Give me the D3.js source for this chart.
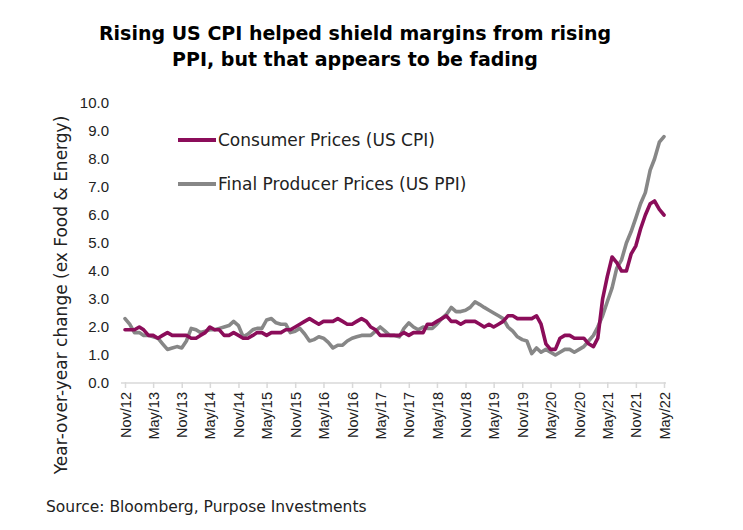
<!DOCTYPE html>
<html><head><meta charset="utf-8">
<script src="https://cdn.jsdelivr.net/npm/d3@7/dist/d3.min.js"></script>
<style>
body{margin:0;background:#fff;}
svg{display:block;font-family:"DejaVu Sans","Noto Sans",sans-serif;}
</style></head>
<body><svg id="c" width="743" height="530"></svg>
<script>
const startMonth = {year: 2012, month: 10}; // Nov 2012 (0-based month)
const cpi = [1.9,1.9,1.9,2.0,1.9,1.7,1.7,1.6,1.7,1.8,1.7,1.7,
  1.7,1.7,1.6,1.6,1.7,1.8,2.0,1.9,1.9,1.7,1.7,1.8,
  1.7,1.6,1.6,1.7,1.8,1.8,1.7,1.8,1.8,1.8,1.9,1.9,
  2.0,2.1,2.2,2.3,2.2,2.1,2.2,2.2,2.2,2.3,2.2,2.1,
  2.1,2.2,2.3,2.2,2.0,1.9,1.7,1.7,1.7,1.7,1.7,1.8,
  1.7,1.8,1.8,1.8,2.1,2.1,2.2,2.3,2.4,2.2,2.2,2.1,
  2.2,2.2,2.2,2.1,2.0,2.1,2.0,2.1,2.2,2.4,2.4,2.3,
  2.3,2.3,2.3,2.4,2.1,1.4,1.2,1.2,1.6,1.7,1.7,1.6,
  1.6,1.6,1.4,1.3,1.6,3.0,3.8,4.5,4.3,4.0,4.0,4.6,
  4.9,5.5,6.0,6.4,6.5,6.2,6.0];
const ppi = [2.3,2.1,1.8,1.8,1.7,1.7,1.65,1.6,1.4,1.2,1.25,1.3,
  1.25,1.5,1.95,1.9,1.8,1.85,1.9,1.9,1.95,2.0,2.05,2.2,
  2.05,1.65,1.75,1.9,1.95,1.95,2.25,2.3,2.15,2.1,2.1,1.8,
  1.85,1.95,1.75,1.5,1.55,1.65,1.6,1.45,1.25,1.35,1.35,1.5,
  1.6,1.65,1.7,1.7,1.7,1.85,2.0,1.85,1.7,1.7,1.65,1.95,
  2.15,2.0,1.9,2.0,1.95,1.95,2.1,2.3,2.45,2.7,2.55,2.55,
  2.6,2.7,2.9,2.8,2.7,2.6,2.5,2.4,2.3,2.0,1.85,1.65,
  1.55,1.5,1.05,1.25,1.1,1.2,1.1,1.0,1.1,1.2,1.2,1.1,
  1.2,1.3,1.5,1.7,2.0,2.4,2.9,3.4,4.1,4.4,5.0,5.4,
  5.9,6.4,6.8,7.6,8.0,8.6,8.8];
const tickLabels = ["Nov/12","May/13","Nov/13","May/14","Nov/14","May/15","Nov/15","May/16","Nov/16","May/17","Nov/17","May/18","Nov/18","May/19","Nov/19","May/20","Nov/20","May/21","Nov/21","May/22"];
const yTicks = [0,1,2,3,4,5,6,7,8,9,10];
const seriesNames = ["Consumer Prices (US CPI)","Final Producer Prices (US PPI)"];
const colors = ["#8b0d5a","#878787"];
const title = ["Rising US CPI helped shield margins from rising","PPI, but that appears to be fading"];
const yTitle = "Year-over-year change (ex Food & Energy)";
const source = "Source: Bloomberg, Purpose Investments";

const svg = d3.select("#c");
const dates = cpi.map((d,i)=>new Date(startMonth.year, startMonth.month+i, 1));
const x = d3.scaleTime().domain([dates[0], dates[dates.length-1]]).range([125,664]);
const y = d3.scaleLinear().domain([0,10]).range([383,103]);

// title
svg.append("g").selectAll("text").data(title).join("text")
  .attr("x",355).attr("y",(d,i)=>40+i*26).attr("text-anchor","middle")
  .attr("font-size",19).attr("font-weight",700).attr("fill","#000").text(d=>d);

// y axis
const yAxis = svg.append("g").attr("transform","translate(122,0)")
  .call(d3.axisLeft(y).tickValues(yTicks).tickFormat(d3.format(".1f")).tickSize(0).tickPadding(13));
yAxis.select(".domain").remove();
yAxis.selectAll("text").attr("font-size",15).attr("fill","#222").attr("font-family","inherit");

// x axis
const tickDates = tickLabels.map((d,i)=>new Date(startMonth.year, startMonth.month+i*6, 1));
const xAxis = svg.append("g").attr("transform","translate(0,383)")
  .call(d3.axisBottom(x).tickValues(tickDates).tickFormat((d,i)=>tickLabels[i]).tickSize(5).tickSizeOuter(0));
xAxis.select(".domain").attr("stroke","#d9d9d9").attr("stroke-width",1.5)
  .attr("d","M121,0H666");
xAxis.selectAll(".tick line").attr("stroke","#d9d9d9").attr("stroke-width",1.5).attr("y1",-1);
xAxis.selectAll("text").attr("font-size",14.5).attr("fill","#222").attr("font-family","inherit")
  .attr("transform","rotate(-90)").attr("text-anchor","end").attr("x",-9).attr("y",0).attr("dy","0.35em");

// lines
const line = d3.line().x((d,i)=>x(dates[i])).y(d=>y(d));
[ppi,cpi].forEach((s,k)=>{
  svg.append("path").datum(s).attr("d",line).attr("fill","none")
    .attr("stroke",k===0?colors[1]:colors[0]).attr("stroke-width",3.6)
    .attr("stroke-linejoin","round").attr("stroke-linecap","round");
});

// legend
const lg = svg.append("g");
seriesNames.forEach((n,i)=>{
  const yy = 140+i*44;
  lg.append("line").attr("x1",178).attr("x2",216).attr("y1",yy).attr("y2",yy)
    .attr("stroke",colors[i]).attr("stroke-width",4);
  lg.append("text").attr("x",218).attr("y",yy).attr("dy","0.35em")
    .attr("font-size",17).attr("fill","#222").text(n);
});

// y title
svg.append("text").attr("transform","translate(61,295) rotate(-90)")
  .attr("text-anchor","middle").attr("dy","0.35em").attr("font-size",17).attr("fill","#222").text(yTitle);

// source
svg.append("text").attr("x",46).attr("y",512).attr("font-size",15.5).attr("fill","#222").text(source);
</script></body></html>
